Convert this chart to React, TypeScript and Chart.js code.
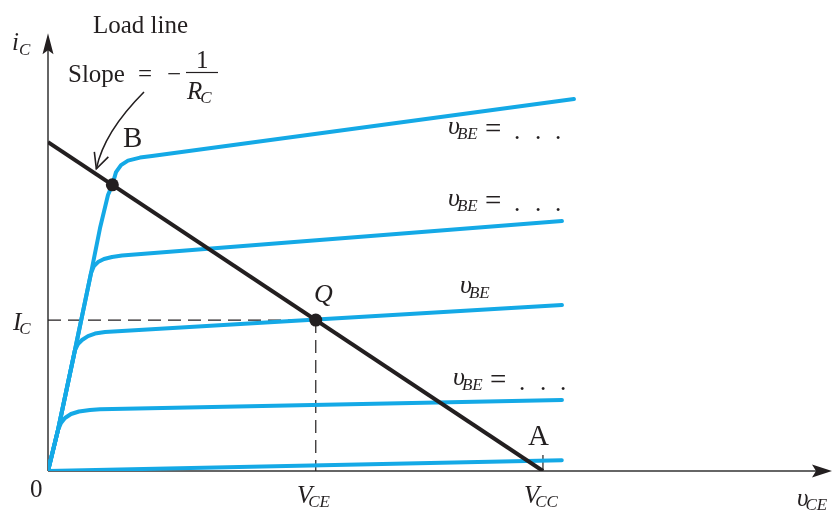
import React, { useEffect, useRef } from "react";
import { Chart, registerables } from "chart.js";

Chart.register(...registerables);

// ---- data (vCE in volts, iC in mA; VCC = 10 V, VCC/RC = 10 mA) ----
const VCC = 10;
const IC_SAT = 10;
const X_MAX = 15.84;
const Y_MAX = 14.32;
const Y_ARROW_TIP = 13.31;

const curve1VCE = [0, 10.38];
const curve1IC = [0, 0.33];

const curve2VCE = [0, 0.202, 0.263, 0.343, 0.465, 0.626, 0.848, 1.051, 10.384];
const curve2IC = [0, 1.246, 1.459, 1.611, 1.733, 1.809, 1.854, 1.875, 2.158];

const curve3VCE = [0, 0.202, 0.545, 0.606, 0.687, 0.808, 0.949, 1.152, 10.384];
const curve3IC = [0, 1.246, 3.678, 3.86, 3.982, 4.103, 4.179, 4.225, 5.046];

const curve4VCE = [0, 0.202, 0.545, 0.869, 0.929, 1.01, 1.131, 1.293, 1.495, 10.384];
const curve4IC = [0, 1.246, 3.678, 6.018, 6.231, 6.353, 6.444, 6.505, 6.55, 7.599];

const curve5VCE = [0, 0.202, 0.545, 0.869, 1.051, 1.212, 1.3, 1.374, 1.475, 1.616, 1.859, 2.101, 10.626];
const curve5IC = [0, 1.246, 3.678, 6.018, 7.386, 8.389, 8.7, 9.088, 9.301, 9.438, 9.529, 9.574, 11.307];

const loadLineVCE = [0, VCC];
const loadLineIC = [IC_SAT, 0];

const qVCE = 5.41;
const qIC = 4.59;
const bVCE = 1.3;
const bIC = 8.7;

const BLUE = "#14a9e6";
const INK = "#231f20";
const FONT = '"Liberation Serif", "Times New Roman", serif';

const pts = (xs: number[], ys: number[]) => xs.map((x, i) => ({ x, y: ys[i] }));

function drawVar(
  ctx: CanvasRenderingContext2D,
  x: number,
  y: number,
  main: string,
  sub: string,
  size = 25,
  subSize = 17,
  subDy = 5,
  subDx = -1
) {
  ctx.font = `italic ${size}px ${FONT}`;
  ctx.fillText(main, x, y);
  const w = ctx.measureText(main).width;
  ctx.font = `italic ${subSize}px ${FONT}`;
  ctx.fillText(sub, x + w + subDx, y + subDy);
  return x + w + subDx + ctx.measureText(sub).width;
}

function drawVbe(ctx: CanvasRenderingContext2D, x: number, y: number, withDots: boolean) {
  drawVar(ctx, x, y, "υ", "BE", 26, 17, 5, -3);
  if (withDots) {
    ctx.font = `29px ${FONT}`;
    ctx.fillText("=", x + 37, y + 4);
    ctx.font = `25px ${FONT}`;
    ctx.fillText(".", x + 66, y + 5);
    ctx.fillText(".", x + 87, y + 5);
    ctx.fillText(".", x + 107, y + 5);
  }
}

const annotPlugin = {
  id: "annot",
  beforeDatasetsDraw(chart: any) {
    const ctx: CanvasRenderingContext2D = chart.ctx;
    const xs = chart.scales.x;
    const ys = chart.scales.y;
    const x0 = xs.getPixelForValue(0);
    const y0 = ys.getPixelForValue(0);
    const yTop = ys.getPixelForValue(Y_ARROW_TIP);
    const xRight = xs.getPixelForValue(X_MAX);
    ctx.save();
    ctx.strokeStyle = "#333";
    ctx.fillStyle = INK;
    ctx.lineWidth = 1.5;
    // y axis
    ctx.beginPath();
    ctx.moveTo(x0, y0);
    ctx.lineTo(x0, yTop + 10);
    ctx.stroke();
    ctx.beginPath();
    ctx.moveTo(x0, yTop);
    ctx.lineTo(x0 - 5.5, yTop + 21);
    ctx.lineTo(x0, yTop + 17);
    ctx.lineTo(x0 + 5.5, yTop + 21);
    ctx.closePath();
    ctx.fill();
    // x axis
    ctx.beginPath();
    ctx.moveTo(x0, y0);
    ctx.lineTo(xRight - 10, y0);
    ctx.stroke();
    ctx.beginPath();
    ctx.moveTo(xRight, y0);
    ctx.lineTo(xRight - 20, y0 - 6.5);
    ctx.lineTo(xRight - 16, y0);
    ctx.lineTo(xRight - 20, y0 + 6.5);
    ctx.closePath();
    ctx.fill();
    // tick at VCC
    const xa = xs.getPixelForValue(VCC);
    ctx.lineWidth = 1.3;
    ctx.beginPath();
    ctx.moveTo(xa, y0);
    ctx.lineTo(xa, y0 - 16);
    ctx.stroke();
    ctx.restore();
  },
  afterDatasetsDraw(chart: any) {
    const ctx: CanvasRenderingContext2D = chart.ctx;
    const xs = chart.scales.x;
    const ys = chart.scales.y;
    ctx.save();
    ctx.fillStyle = INK;
    ctx.strokeStyle = INK;
    ctx.textBaseline = "alphabetic";
    ctx.textAlign = "left";

    // Load line title
    ctx.font = `25px ${FONT}`;
    ctx.fillText("Load line", 93, 33);
    ctx.fillText("Slope", 68, 82);
    ctx.fillText("=", 138, 82);
    ctx.fillText("\u2212", 167, 82);
    ctx.fillText("1", 196, 68);
    ctx.lineWidth = 1.2;
    ctx.beginPath();
    ctx.moveTo(186, 72.5);
    ctx.lineTo(218, 72.5);
    ctx.stroke();
    drawVar(ctx, 187, 99, "R", "C", 25, 17, 4, -2);

    // curved arrow
    const bx = xs.getPixelForValue(bVCE);
    const by = ys.getPixelForValue(bIC);
    const ex = bx - 16;
    const ey = by - 16;
    ctx.lineWidth = 1.6;
    ctx.beginPath();
    ctx.moveTo(144, 92);
    ctx.quadraticCurveTo(104, 132, ex, ey);
    ctx.stroke();
    ctx.beginPath();
    ctx.moveTo(ex - 2, ey - 17);
    ctx.lineTo(ex, ey);
    ctx.lineTo(ex + 12, ey - 12);
    ctx.stroke();

    // axis labels
    drawVar(ctx, 12, 50, "i", "C", 25, 17, 5, 0);
    drawVar(ctx, 13, 330, "I", "C", 25, 17, 4, -2);
    ctx.font = `25px ${FONT}`;
    ctx.fillText("0", 30, 497);
    drawVar(ctx, 297, 503, "V", "CE", 25, 17, 4, -4);
    drawVar(ctx, 524, 503, "V", "CC", 25, 17, 4, -4);
    drawVar(ctx, 797, 506, "υ", "CE", 25, 17, 4, -3);

    // point labels
    ctx.font = `29px ${FONT}`;
    ctx.fillText("B", 123, 147);
    ctx.fillText("A", 528, 445);
    ctx.font = `italic 26px ${FONT}`;
    ctx.fillText("Q", 314, 302);

    // vBE labels
    drawVbe(ctx, 448, 134, true);
    drawVbe(ctx, 448, 206, true);
    drawVbe(ctx, 460, 293, false);
    drawVbe(ctx, 453, 385, true);

    ctx.restore();
  },
};

export default function App() {
  const ref = useRef<HTMLCanvasElement | null>(null);
  useEffect(() => {
    if (!ref.current) return;
    const curve = (xs: number[], ys: number[]) => ({
      data: pts(xs, ys),
      showLine: true,
      borderColor: BLUE,
      borderWidth: 4,
      borderJoinStyle: "round" as const,
      borderCapStyle: "round" as const,
      pointRadius: 0,
      tension: 0,
      order: 3,
    });
    const chart = new Chart(ref.current, {
      type: "scatter",
      data: {
        datasets: [
          {
            data: [
              { x: 0, y: qIC },
              { x: qVCE, y: qIC },
            ],
            showLine: true,
            borderColor: INK,
            borderWidth: 1.2,
            borderDash: [13, 7],
            pointRadius: 0,
            order: 5,
          },
          {
            data: [
              { x: qVCE, y: qIC },
              { x: qVCE, y: 0 },
            ],
            showLine: true,
            borderColor: INK,
            borderWidth: 1.2,
            borderDash: [13, 7],
            pointRadius: 0,
            order: 5,
          },
          curve(curve1VCE, curve1IC),
          curve(curve2VCE, curve2IC),
          curve(curve3VCE, curve3IC),
          curve(curve4VCE, curve4IC),
          curve(curve5VCE, curve5IC),
          {
            data: pts(loadLineVCE, loadLineIC),
            showLine: true,
            borderColor: INK,
            borderWidth: 4,
            pointRadius: 0,
            order: 2,
          },
          {
            data: [
              { x: qVCE, y: qIC },
              { x: bVCE, y: bIC },
            ],
            showLine: false,
            pointRadius: 6.5,
            pointBackgroundColor: INK,
            pointBorderWidth: 0,
            order: 1,
          },
        ],
      },
      options: {
        responsive: false,
        animation: false,
        devicePixelRatio: 1,
        layout: { autoPadding: false, padding: { left: 48, right: 0, top: 0, bottom: 40 } },
        plugins: { legend: { display: false }, tooltip: { enabled: false } },
        scales: {
          x: { type: "linear", min: 0, max: X_MAX, display: false },
          y: { type: "linear", min: 0, max: Y_MAX, display: false },
        },
      },
      plugins: [annotPlugin],
    });
    return () => chart.destroy();
  }, []);
  return (
    <div style={{ position: "absolute", left: 0, top: 0, width: 832, height: 511, background: "#fff" }}>
      <canvas ref={ref} width={832} height={511} style={{ width: 832, height: 511, display: "block" }} />
    </div>
  );
}
